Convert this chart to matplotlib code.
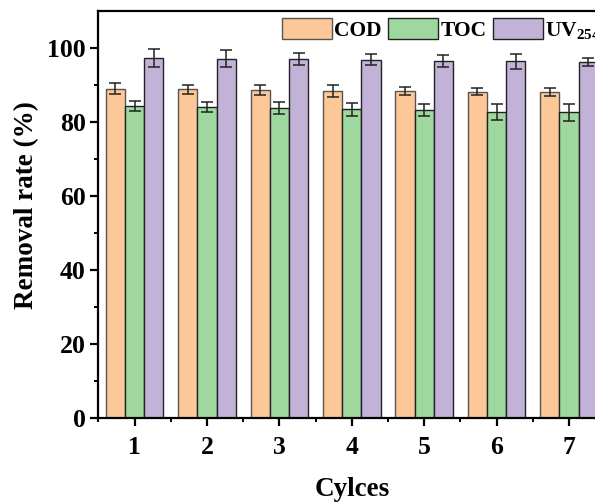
import matplotlib.pyplot as plt
import numpy as np

plt.rcParams['font.family'] = 'Liberation Serif'
plt.rcParams['font.weight'] = 'bold'
plt.rcParams['mathtext.fontset'] = 'custom'
plt.rcParams['mathtext.rm'] = 'Liberation Serif:bold'
plt.rcParams['mathtext.it'] = 'Liberation Serif:bold'
plt.rcParams['mathtext.bf'] = 'Liberation Serif:bold'

# Removal rates over repeated cycles
cycles = [1, 2, 3, 4, 5, 6, 7]
cod = [89.0, 88.8, 88.7, 88.5, 88.4, 88.2, 88.2]
cod_err = [1.5, 1.3, 1.4, 1.6, 1.2, 1.0, 1.1]
toc = [84.3, 84.1, 83.9, 83.4, 83.3, 82.8, 82.6]
toc_err = [1.3, 1.3, 1.6, 1.7, 1.6, 2.2, 2.2]
uv = [97.3, 97.1, 97.0, 96.9, 96.6, 96.4, 96.2]
uv_err = [2.5, 2.3, 1.6, 1.6, 1.6, 2.0, 1.1]

c_cod = '#FDC897'
c_toc = '#9FD89F'
c_uv = '#C2B2D8'

fig = plt.figure(figsize=(5.95, 5.03), dpi=100)
ax = fig.add_axes([0.1652, 0.169, 0.852, 0.809])

x = np.array(cycles)
w = 0.265
err_kw = dict(ecolor='#222222', elinewidth=1.1, capsize=4.5, capthick=1.1)
ax.bar(x - w, cod, w, yerr=cod_err, color=c_cod, edgecolor='#555555',
       linewidth=1, label='COD', error_kw=err_kw)
ax.bar(x, toc, w, yerr=toc_err, color=c_toc, edgecolor='#222222',
       linewidth=1, label='TOC', error_kw=err_kw)
ax.bar(x + w, uv, w, yerr=uv_err, color=c_uv, edgecolor='#222222',
       linewidth=1, label='UV$_{254}$', error_kw=err_kw)

ax.set_xlim(0.5, 7.5)
ax.set_ylim(0, 110)
ax.set_xticks(cycles)
ax.set_xticks(np.arange(0.5, 7.6, 1), minor=True)
ax.set_yticks([0, 20, 40, 60, 80, 100])
ax.set_yticks(np.arange(10, 110, 20), minor=True)

for s in ax.spines.values():
    s.set_linewidth(1.6)
ax.tick_params(axis='both', which='major', direction='out', length=6,
               width=1.6, labelsize=18.5, pad=3)
ax.tick_params(axis='both', which='minor', direction='out', length=3,
               width=1.4)
ax.tick_params(axis='x', which='major', pad=7)

ax.set_xlabel('Cylces', fontsize=19.5, fontweight='bold')
ax.set_ylabel('Removal rate (%)', fontsize=19.5, fontweight='bold')
ax.xaxis.set_label_coords(0.5, -0.145)
ax.yaxis.set_label_coords(-0.116, 0.523)

# legend runs past the right edge, the last label is clipped by the figure
fig.legend(loc='center left', bbox_to_anchor=(282 / 595, 1 - 29.5 / 503),
           bbox_transform=fig.transFigure, ncol=3, frameon=False,
           fontsize=15.5, handlelength=2.33, handleheight=1.16,
           handletextpad=0.1, columnspacing=0.3, borderpad=0,
           borderaxespad=0)

fig.savefig('out.png', dpi=100)
